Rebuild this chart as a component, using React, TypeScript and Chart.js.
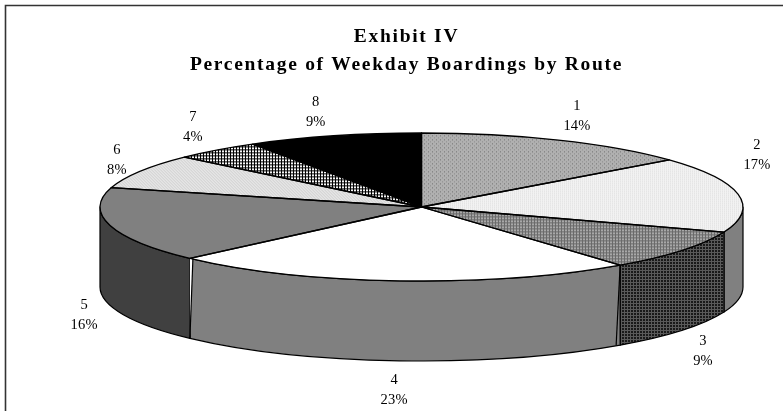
import React, { useEffect, useRef } from "react";
import { Chart, registerables } from "chart.js";

Chart.register(...registerables);

const routes = ["1", "2", "3", "4", "5", "6", "7", "8"];
const shares = [14, 16.5, 8.9, 23.4, 16.4, 7.6, 4.4, 8.8];
const shareLabels = ["14%", "17%", "9%", "23%", "16%", "8%", "4%", "9%"];
const titleLines = ["Exhibit IV", "Percentage of Weekday Boardings by Route"];

const SERIF = "'Liberation Serif', 'Times New Roman', serif";
const TILT = 74 / 321.5;
const RADIUS = 321.5;
const DEPTH = 80;
const labelNudges = [
  [18.6, -24], [18.8, -39.3], [20.8, 101.2], [-5.1, 109.7],
  [-26, 90.1], [-22.9, -11.3], [-23.7, -22.5], [-18, -23.3],
];

function tile(rows: string[][], squash: boolean): CanvasPattern | string {
  const c = document.createElement("canvas");
  c.height = rows.length;
  c.width = rows[0].length;
  const g = c.getContext("2d")!;
  rows.forEach((r, y) => r.forEach((col, x) => {
    g.fillStyle = col;
    g.fillRect(x, y, 1, 1);
  }));
  const p = g.createPattern(c, "repeat")!;
  if (squash) p.setTransform(new DOMMatrix().scale(1, 1 / TILT));
  return p;
}

const A = "#b0b0b0", B = "#707070", C = "#8c8c8c";
const tileDots = [[B, A, A, A], [A, A, A, A], [A, A, C, A], [A, A, A, A]];
const tileLight = [["#dedede", "#f2f2f2"], ["#f2f2f2", "#f2f2f2"]];
const D = "#6a6a6a", E = "#a8a8a8";
const tileGrid = [[D, D, D], [D, E, E], [D, E, E]];
const F = "#5a5a5a", G = "#1a1a1a";
const tileDark = [[F, F, F], [F, G, G], [F, G, G]];
const tileDiag = [["#cfcfcf", "#e4e4e4", "#e8e8e8"], ["#e8e8e8", "#cfcfcf", "#e4e4e4"], ["#e4e4e4", "#e8e8e8", "#cfcfcf"]];
const W = "#f4f4f4", K = "#000000";
const tileCheck = [[W, W, K], [W, W, K], [K, K, K]];

const App = () => {
  const ref = useRef<HTMLCanvasElement>(null);

  useEffect(() => {
    document.body.style.margin = "0";
    const topFills = [
      tile(tileDots, true), tile(tileLight, true), tile(tileGrid, true), "#ffffff",
      "#808080", tile(tileDiag, true), tile(tileCheck, true), "#000000",
    ];
    const sideFills = [
      "#808080", "#808080", tile(tileDark, false), "#808080",
      "#404040", "#808080", "#808080", "#000000",
    ];

    const pie3d = {
      id: "pie3d",
      afterLayout(chart: any) {
        chart.titleBlock.left = 30;
        chart.titleBlock.right = 783;
      },
      beforeDraw(chart: any) {
        const ctx = chart.ctx;
        ctx.save();
        ctx.strokeStyle = "#333333";
        ctx.lineWidth = 1.6;
        ctx.beginPath();
        ctx.moveTo(5.5, 411);
        ctx.lineTo(5.5, 5.5);
        ctx.lineTo(783, 5.5);
        ctx.stroke();
        ctx.restore();
        ctx.letterSpacing = "1.7px";
      },
      beforeDatasetsDraw(chart: any) {
        const ctx = chart.ctx;
        ctx.letterSpacing = "0px";
        const arcs = chart.getDatasetMeta(0).data;
        ctx.save();
        ctx.lineWidth = 1.2;
        ctx.strokeStyle = "#000000";
        ctx.lineJoin = "round";
        arcs.forEach((arc: any, i: number) => {
          const a = Math.max(arc.startAngle, 0);
          const b = Math.min(arc.endAngle, Math.PI);
          if (b <= a) return;
          const r = arc.outerRadius;
          const ry = r * TILT;
          ctx.beginPath();
          ctx.ellipse(arc.x, arc.y, r, ry, 0, a, b);
          ctx.ellipse(arc.x, arc.y + DEPTH, r, ry, 0, b, a, true);
          ctx.closePath();
          ctx.fillStyle = sideFills[i];
          ctx.fill();
          ctx.stroke();
        });
        // the seams of the long front wall lean inwards in the reference
        const wall = arcs[3];
        const r = wall.outerRadius;
        const ry = r * TILT;
        const xs = wall.x + r * Math.cos(wall.startAngle);
        const ys = wall.y + ry * Math.sin(wall.startAngle);
        const xe = wall.x + r * Math.cos(wall.endAngle);
        const ye = wall.y + ry * Math.sin(wall.endAngle);
        ctx.beginPath();
        ctx.moveTo(xs, ys);
        ctx.lineTo(xs - 4, ys + DEPTH);
        ctx.stroke();
        ctx.beginPath();
        ctx.moveTo(xe, ye);
        ctx.lineTo(xe + 3, ye);
        ctx.lineTo(xe, ye + DEPTH);
        ctx.closePath();
        ctx.fillStyle = "#ffffff";
        ctx.fill();
        ctx.beginPath();
        ctx.moveTo(xe + 3, ye);
        ctx.lineTo(xe, ye + DEPTH);
        ctx.stroke();
        ctx.restore();
      },
      beforeDatasetDraw(chart: any) {
        const ctx = chart.ctx;
        const arc = chart.getDatasetMeta(0).data[0];
        ctx.save();
        ctx.translate(0, arc.y);
        ctx.scale(1, TILT);
        ctx.translate(0, -arc.y);
      },
      afterDatasetDraw(chart: any) {
        chart.ctx.restore();
      },
      afterDatasetsDraw(chart: any) {
        const ctx = chart.ctx;
        const arcs = chart.getDatasetMeta(0).data;
        ctx.save();
        ctx.strokeStyle = "#000000";
        ctx.lineWidth = 1.3;
        ctx.lineJoin = "round";
        arcs.forEach((arc: any) => {
          ctx.beginPath();
          ctx.moveTo(arc.x, arc.y);
          ctx.ellipse(arc.x, arc.y, arc.outerRadius, arc.outerRadius * TILT, 0, arc.startAngle, arc.endAngle);
          ctx.closePath();
          ctx.stroke();
        });
        ctx.fillStyle = "#000000";
        ctx.font = `14.5px ${SERIF}`;
        ctx.textAlign = "center";
        ctx.textBaseline = "middle";
        ctx.letterSpacing = "0.2px";
        arcs.forEach((arc: any, i: number) => {
          const mid = (arc.startAngle + arc.endAngle) / 2;
          const x = arc.x + arc.outerRadius * Math.cos(mid) + labelNudges[i][0];
          const y = arc.y + arc.outerRadius * TILT * Math.sin(mid) + labelNudges[i][1];
          ctx.fillText(routes[i], x, y - 10);
          ctx.fillText(shareLabels[i], x, y + 10);
        });
        ctx.restore();
      },
    };

    const chart = new Chart(ref.current!, {
      type: "pie",
      data: {
        labels: routes,
        datasets: [{
          data: shares,
          backgroundColor: topFills as any,
          borderWidth: 0,
          clip: false as any,
        }],
      },
      options: {
        responsive: false,
        animation: false,
        events: [],
        radius: RADIUS,
        layout: { padding: { left: 60, bottom: 76 } },
        plugins: {
          legend: { display: false },
          tooltip: { enabled: false },
          title: {
            display: true,
            text: titleLines,
            color: "#000000",
            padding: { top: 23, bottom: 0 },
            font: { family: SERIF, size: 19.5, weight: "bold", lineHeight: 28 / 19.5 },
          },
        },
      } as any,
      plugins: [pie3d as any],
    });
    return () => chart.destroy();
  }, []);

  return <canvas ref={ref} width={783} height={411} style={{ display: "block" }} />;
};

export default App;
